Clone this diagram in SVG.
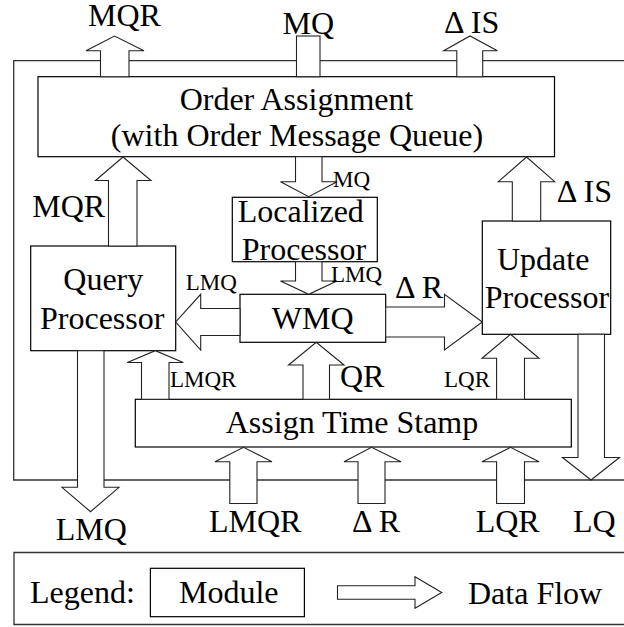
<svg xmlns="http://www.w3.org/2000/svg" width="624" height="627" viewBox="0 0 624 627">
<style>
.box{fill:#fff;stroke:#000;stroke-width:1.2}
.frame{fill:none;stroke:#333;stroke-width:1.3}
.arr{fill:#fff;stroke:#222;stroke-width:1.1;stroke-linejoin:miter}
.L{font-size:32px}
.S{font-size:23px}
.c{text-anchor:middle}
</style>
<rect width="624" height="627" fill="#fff"/>
<g font-family="'Liberation Serif', 'DejaVu Serif', 'Times New Roman', serif" fill="#000">
<g id="frame">
<path class="frame" d="M625,60.7 H13.7 V480 H625"/>
</g>
<g id="order-assignment">
<rect class="box" x="38" y="76.7" width="516.5" height="80"/>
<text class="L c" x="296.5" y="110">Order Assignment</text>
<text class="L c" x="297" y="146">(with Order Message Queue)</text>
</g>
<g id="localized-processor">
<rect class="box" x="232.3" y="197.3" width="145" height="64.4"/>
<text class="L" x="237.7" y="221.7">Localized</text>
<text class="L" x="241.7" y="260">Processor</text>
</g>
<g id="query-processor">
<rect class="box" x="30.7" y="246" width="145" height="104.7"/>
<text class="L" x="63.3" y="290">Query</text>
<text class="L" x="40" y="329">Processor</text>
</g>
<g id="wmq">
<rect class="box" x="240" y="294.3" width="145.7" height="48"/>
<text class="L c" x="312.7" y="329">WMQ</text>
</g>
<g id="update-processor">
<rect class="box" x="482.3" y="221" width="128.4" height="113.3"/>
<text class="L" x="497" y="270">Update</text>
<text class="L" x="484.7" y="308.3">Processor</text>
</g>
<g id="assign-time-stamp">
<rect class="box" x="135.3" y="399.3" width="436" height="47.7"/>
<text class="L c" x="352" y="433.3">Assign Time Stamp</text>
</g>
<g id="connectors">
<polygon class="arr" points="100.5,76.7 100.5,50.7 86,50.7 114.5,36 144,50.7 129,50.7 129,76.7"/>
<rect class="arr" x="296.5" y="36" width="23.5" height="40.7"/>
<polygon class="arr" points="456.8,76.7 456.8,50.7 443.7,50.7 470,36 497.4,50.7 482.7,50.7 482.7,76.7"/>
<polygon class="arr" points="295.5,156.7 295.5,181.7 280.5,181.7 308.7,196.7 337,181.7 322,181.7 322,156.7"/>
<polygon class="arr" points="108.5,246 108.5,180.5 95.5,180.5 123,157 151,180.5 137,180.5 137,246"/>
<polygon class="arr" points="512.3,221 512.3,181.7 498.3,181.7 526.5,157 554.7,181.7 540.7,181.7 540.7,221"/>
<polygon class="arr" points="295.5,261.7 295.5,281 280.5,281 308.7,294.3 337,281 322,281 322,261.7"/>
<polygon class="arr" points="240,308.5 200.7,308.5 200.7,294.3 175.7,322 200.7,350 200.7,335.5 240,335.5"/>
<polygon class="arr" points="385.7,307 444.5,307 444.5,294.3 482.3,322 444.5,350 444.5,337 385.7,337"/>
<polygon class="arr" points="141.5,399.3 141.5,362.5 127.3,362.5 155.3,350.7 183.3,362.5 169,362.5 169,399.3"/>
<polygon class="arr" points="303,399.3 303,365 288.5,365 316.3,342.3 344,365 329.5,365 329.5,399.3"/>
<polygon class="arr" points="496.6,399.3 496.6,358.3 482,358.3 510.5,334.3 539,358.3 524.5,358.3 524.5,399.3"/>
<polygon class="arr" points="77.5,350.7 77.5,487.3 62,487.3 90.5,511.7 119,487.3 104,487.3 104,350.7"/>
<polygon class="arr" points="578,334.3 578,457.5 562.5,457.5 591,480 619.5,457.5 604.5,457.5 604.5,334.3"/>
<polygon class="arr" points="229.8,503.5 229.8,461.7 215,461.7 243.5,447.3 272,461.7 257,461.7 257,503.5"/>
<polygon class="arr" points="358,503.5 358,461.7 344,461.7 371.5,447.3 401,461.7 385,461.7 385,503.5"/>
<polygon class="arr" points="496.6,503.5 496.6,461.7 482,461.7 510.5,447.3 539,461.7 524.5,461.7 524.5,503.5"/>
</g>
<g id="labels">
<text class="L" x="88" y="26">MQR</text>
<text class="L" x="282.5" y="34">MQ</text>
<text class="L" x="444" y="33">Δ IS</text>
<text class="L" x="32.3" y="217.3">MQR</text>
<text class="S" x="333" y="186.7">MQ</text>
<text class="L" x="556.7" y="201.7">Δ IS</text>
<text class="S" x="331" y="281.7">LMQ</text>
<text class="S" x="185.7" y="290">LMQ</text>
<text class="L" x="395" y="298.3">Δ R</text>
<text class="S" x="170" y="386.7">LMQR</text>
<text class="L" x="340" y="386.7">QR</text>
<text class="S" x="444" y="386.7">LQR</text>
<text class="L" x="55.7" y="540">LMQ</text>
<text class="L" x="209" y="531.7">LMQR</text>
<text class="L" x="352" y="531.7">Δ R</text>
<text class="L" x="475.7" y="531.7">LQR</text>
<text class="L" x="573" y="531.7">LQ</text>
</g>
<g id="legend">
<path class="frame" d="M625,552.5 H14 V624.5 H625"/>
<text class="L" x="30" y="603.3">Legend:</text>
<rect class="box" x="150.4" y="568.3" width="154" height="48.4"/>
<text class="L" x="179" y="603.3">Module</text>
<polygon class="arr" points="337.5,585.7 415,585.7 415,576.7 441.7,592.5 415,608.3 415,599.3 337.5,599.3"/>
<text class="L" x="468" y="604">Data Flow</text>
</g>
</g>
</svg>
